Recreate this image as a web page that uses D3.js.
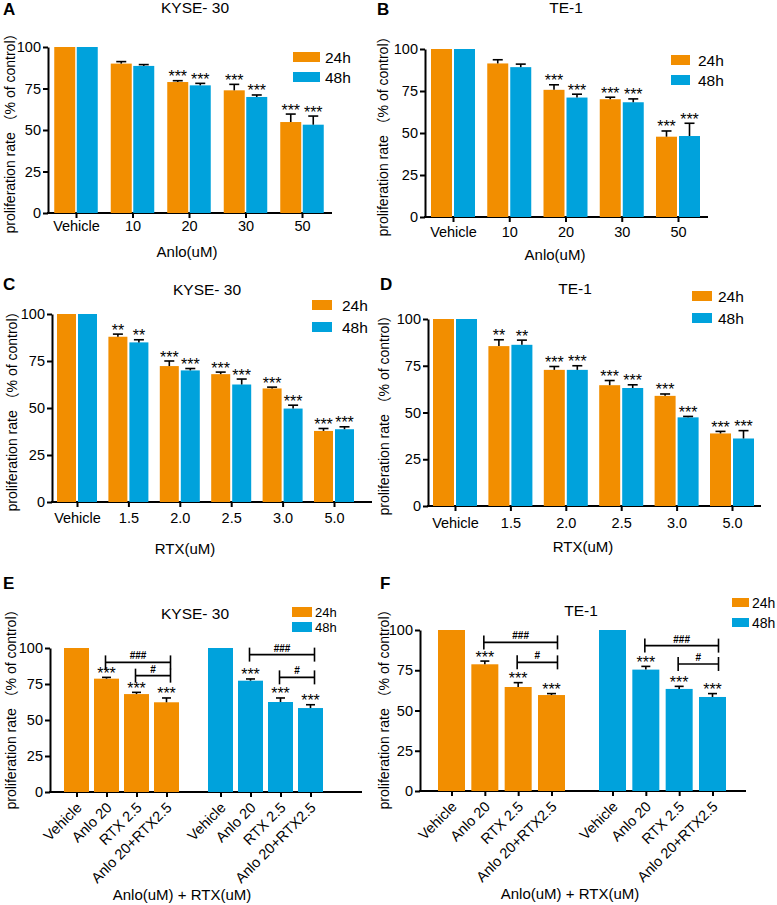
<!DOCTYPE html>
<html>
<head>
<meta charset="utf-8">
<script src="https://cdn.jsdelivr.net/npm/d3@7"></script>
<style>
  body { margin: 0; background: #fff; }
  text { font-family: "Liberation Sans", Arial, "Noto Sans CJK SC", sans-serif; }
</style>
</head>
<body>
<div id="fig"></div>
<script>
// ---------- data ----------
const anloDoses = ["Vehicle", "10", "20", "30", "50"];
const rtxDoses = ["Vehicle", "1.5", "2.0", "2.5", "3.0", "5.0"];
const comboGroups = ["Vehicle", "Anlo 20", "RTX 2.5", "Anlo 20+RTX2.5"];
const yTicks = [0, 25, 50, 75, 100];
const seriesNames = ["24h", "48h"];

// A: KYSE-30, Anlo
const aMean24 = [100, 90.0, 78.9, 73.9, 54.8];
const aErr24  = [0, 1.2, 0.8, 3.6, 4.8];
const aMean48 = [100, 88.6, 76.9, 69.9, 53.2];
const aErr48  = [0, 0.8, 1.2, 1.2, 5.2];
const aStars  = ["", "", "***", "***", "***"];

// B: TE-1, Anlo
const bMean24 = [100, 91.4, 75.7, 70.1, 47.8];
const bErr24  = [0, 2.2, 3.0, 1.2, 3.4];
const bMean48 = [100, 89.2, 71.1, 68.3, 48.2];
const bErr48  = [0, 1.8, 2.0, 2.0, 7.6];
const bStars  = ["", "", "***", "***", "***"];

// C: KYSE-30, RTX
const cMean24 = [100, 87.9, 72.3, 68.0, 60.4, 37.8];
const cErr24  = [0, 1.4, 2.7, 1.1, 0.7, 1.3];
const cMean48 = [100, 84.9, 70.0, 62.5, 49.7, 38.7];
const cErr48  = [0, 1.4, 1.0, 2.9, 1.8, 1.3];
const cStars  = ["", "**", "***", "***", "***", "***"];

// D: TE-1, RTX
const dMean24 = [100, 85.5, 72.8, 64.6, 58.9, 38.8];
const dErr24  = [0, 3.4, 1.8, 2.5, 1.0, 1.1];
const dMean48 = [100, 86.2, 72.8, 63.1, 47.4, 36.1];
const dErr48  = [0, 2.5, 2.2, 1.7, 0.5, 4.2];
const dStars  = ["", "**", "***", "***", "***", "***"];

// E: KYSE-30, combination
const eMean24 = [100, 78.7, 68.0, 62.3];
const eErr24  = [0, 0.9, 1.2, 3.0];
const eMean48 = [100, 77.3, 62.5, 58.3];
const eErr48  = [0, 1.2, 2.8, 2.3];
const eBrackets24 = [90.0, 80.8];   // ### and # heights
const eBrackets48 = [95.4, 79.6];

// F: TE-1, combination
const fMean24 = [100, 78.7, 64.6, 59.6];
const fErr24  = [0, 2.0, 2.7, 0.9];
const fMean48 = [100, 75.4, 63.4, 58.4];
const fErr48  = [0, 2.0, 1.6, 2.1];
const fBrackets24 = [92.3, 79.9];
const fBrackets48 = [90.3, 78.9];

const comboStars = ["", "***", "***", "***"];
const bracketMarks = ["###", "#"];

// ---------- styling ----------
const FONT = '"Liberation Sans", Arial, "Noto Sans CJK SC", sans-serif';
const orange = "#f28e00", blue = "#00a2dc";
const ylabText = "proliferation rate （% of control）";

const svg = d3.select("#fig").append("svg")
  .attr("width", 777)
  .attr("height", 905);

function styleAxis(g) {
  g.attr("font-family", FONT).attr("font-size", 14.5);
  g.selectAll(".tick line").attr("stroke-width", 2);
  g.selectAll(".tick text").attr("fill", "#000");
}

// frame shared by every panel: letter, title, y axis, baseline, labels
function frame(p) {
  svg.append("text")
    .attr("x", p.letter[1]).attr("y", p.letter[2])
    .attr("font-size", 17).attr("font-weight", "bold")
    .text(p.letter[0]);

  svg.append("text")
    .attr("x", p.title[1]).attr("y", p.title[2])
    .attr("text-anchor", "middle").attr("font-size", 15.5)
    .text(p.title[0]);

  const y = d3.scaleLinear().domain([0, 100]).range([p.yBot, p.yTop]);

  svg.append("g")
    .attr("transform", `translate(${p.yx},0)`)
    .call(d3.axisLeft(y).tickValues(yTicks).tickSize(5).tickSizeOuter(0).tickPadding(2))
    .call(styleAxis)
    .select(".domain").attr("stroke-width", 2);

  svg.append("line")
    .attr("x1", p.yx - 1).attr("x2", p.xEnd)
    .attr("y1", y(0)).attr("y2", y(0))
    .attr("stroke", "#000").attr("stroke-width", 2);

  svg.append("text")
    .attr("transform", `translate(${p.ylab[0]},${p.ylab[1]}) rotate(-90)`)
    .attr("dy", "0.35em")
    .attr("text-anchor", "middle").attr("font-size", 14)
    .text(ylabText);

  svg.append("text")
    .attr("x", p.xlab[1]).attr("y", p.xlab[2])
    .attr("text-anchor", "middle").attr("font-size", 15)
    .text(p.xlab[0]);

  // legend
  seriesNames.forEach(function (name, i) {
    svg.append("rect")
      .attr("x", p.leg.x).attr("y", p.leg.y + i * p.leg.dy)
      .attr("width", p.leg.w).attr("height", p.leg.h)
      .attr("fill", i === 0 ? orange : blue);
    svg.append("text")
      .attr("x", p.leg.tx).attr("y", p.leg.y + i * p.leg.dy + p.leg.h / 2)
      .attr("dy", "0.36em").attr("font-size", p.leg.fs)
      .text(name);
  });

  return y;
}

// one bar with upward error bar and significance stars
function bar(y, cx, bw, cw, mean, err, color, star) {
  svg.append("rect")
    .attr("x", cx - bw / 2).attr("y", y(mean))
    .attr("width", bw).attr("height", y(0) - y(mean))
    .attr("fill", color);
  if (err > 0) {
    svg.append("line")
      .attr("x1", cx).attr("x2", cx)
      .attr("y1", y(mean)).attr("y2", y(mean + err))
      .attr("stroke", "#000").attr("stroke-width", 1.6);
    svg.append("line")
      .attr("x1", cx - cw / 2).attr("x2", cx + cw / 2)
      .attr("y1", y(mean + err)).attr("y2", y(mean + err))
      .attr("stroke", "#000").attr("stroke-width", 1.6);
  }
  if (star) {
    svg.append("text")
      .attr("x", cx).attr("y", y(mean + err) + 1.5)
      .attr("text-anchor", "middle").attr("font-size", 16)
      .text(star);
  }
}

// ---------- dose-response panels (A-D) ----------
function dosePanel(p, cats, m24, e24, m48, e48, stars) {
  const y = frame(p);
  const x = d3.scalePoint().domain(cats).range([p.c0, p.c1]);

  svg.append("g")
    .attr("transform", `translate(0,${y(0)})`)
    .call(d3.axisBottom(x).tickSize(5).tickSizeOuter(0).tickPadding(p.pad))
    .call(styleAxis)
    .select(".domain").remove();

  cats.forEach(function (c, i) {
    const off = (p.bw + p.gap) / 2;
    bar(y, x(c) - off, p.bw, 10, m24[i], e24[i], orange, stars[i]);
    bar(y, x(c) + off, p.bw, 10, m48[i], e48[i], blue, stars[i]);
  });
}

// ---------- combination panels (E-F) ----------
function comboPanel(p, m24, e24, m48, e48, br24, br48) {
  const y = frame(p);
  const groups = [
    { x: d3.scalePoint().domain(comboGroups).range(p.oRange), m: m24, e: e24, br: br24, color: orange },
    { x: d3.scalePoint().domain(comboGroups).range(p.bRange), m: m48, e: e48, br: br48, color: blue }
  ];

  groups.forEach(function (gr) {
    svg.append("g")
      .attr("transform", `translate(0,${y(0)})`)
      .call(d3.axisBottom(gr.x).tickSize(5).tickSizeOuter(0))
      .call(styleAxis)
      .call(g => g.select(".domain").remove())
      .selectAll(".tick text")
      .attr("y", 0).attr("dy", "0.35em")
      .attr("text-anchor", "end")
      .attr("transform", "translate(2,13) rotate(-45)");

    comboGroups.forEach(function (c, i) {
      bar(y, gr.x(c), p.bw, 9, gr.m[i], gr.e[i], gr.color, comboStars[i]);
    });

    // comparison brackets: Anlo 20 vs combo, RTX 2.5 vs combo
    [comboGroups[1], comboGroups[2]].forEach(function (from, k) {
      const yy = y(gr.br[k]);
      const x1 = gr.x(from) - 1, x2 = gr.x(comboGroups[3]) + p.brOver;
      const b = svg.append("g").attr("stroke", "#000").attr("stroke-width", 1.6);
      b.append("line").attr("x1", x1).attr("x2", x2).attr("y1", yy).attr("y2", yy);
      b.append("line").attr("x1", x1).attr("x2", x1).attr("y1", yy - 7).attr("y2", yy + 7);
      b.append("line").attr("x1", x2).attr("x2", x2).attr("y1", yy - 7).attr("y2", yy + 7);
      svg.append("text")
        .attr("x", (x1 + x2) / 2).attr("y", yy - 3)
        .attr("text-anchor", "middle").attr("font-size", 10).attr("font-weight", "bold")
        .text(bracketMarks[k]);
    });
  });
}

// ---------- layouts ----------
dosePanel({
  letter: ["A", 3, 15], title: ["KYSE- 30", 195, 13],
  yx: 48, xEnd: 332, yTop: 47, yBot: 213, c0: 76, c1: 302, bw: 21, gap: 1.5, pad: 3,
  leg: { x: 293, y: 52, w: 27, h: 10, dy: 20, tx: 325, fs: 15.5 },
  ylab: [10, 130], xlab: ["Anlo(uM)", 187, 257]
}, anloDoses, aMean24, aErr24, aMean48, aErr48, aStars);

dosePanel({
  letter: ["B", 377, 15], title: ["TE-1", 566, 13],
  yx: 425, xEnd: 708, yTop: 49, yBot: 217, c0: 453, c1: 678, bw: 21, gap: 2, pad: 5,
  leg: { x: 671, y: 55, w: 19, h: 10, dy: 20, tx: 698, fs: 15.5 },
  ylab: [383, 133], xlab: ["Anlo(uM)", 555, 260]
}, anloDoses, bMean24, bErr24, bMean48, bErr48, bStars);

dosePanel({
  letter: ["C", 3, 290], title: ["KYSE- 30", 207, 295],
  yx: 52, xEnd: 372, yTop: 314, yBot: 502, c0: 77, c1: 334, bw: 19, gap: 2, pad: 6,
  leg: { x: 312, y: 300, w: 20, h: 10, dy: 22, tx: 342, fs: 15.5 },
  ylab: [12, 408], xlab: ["RTX(uM)", 185, 554]
}, rtxDoses, cMean24, cErr24, cMean48, cErr48, cStars);

dosePanel({
  letter: ["D", 380, 290], title: ["TE-1", 575, 294],
  yx: 428, xEnd: 761, yTop: 319, yBot: 506, c0: 455, c1: 732, bw: 21, gap: 2, pad: 7,
  leg: { x: 692, y: 291, w: 20, h: 10, dy: 22, tx: 718, fs: 15.5 },
  ylab: [384, 412], xlab: ["RTX(uM)", 583, 552]
}, rtxDoses, dMean24, dErr24, dMean48, dErr48, dStars);

comboPanel({
  letter: ["E", 3, 589], title: ["KYSE- 30", 195, 619],
  yx: 50, xEnd: 362, yTop: 648, yBot: 792, oRange: [76.5, 166.5], bRange: [220.5, 310.5], bw: 25, brOver: 4,
  leg: { x: 292, y: 607, w: 20, h: 10, dy: 15, tx: 315, fs: 13 },
  ylab: [11, 706], xlab: ["Anlo(uM) + RTX(uM)", 182, 900]
}, eMean24, eErr24, eMean48, eErr48, eBrackets24, eBrackets48);

comboPanel({
  letter: ["F", 380, 589], title: ["TE-1", 581, 616],
  yx: 420, xEnd: 746, yTop: 630, yBot: 791, oRange: [451.5, 551.5], bRange: [612.5, 712.5], bw: 27, brOver: 6,
  leg: { x: 732, y: 598, w: 17, h: 9, dy: 20, tx: 752, fs: 14 },
  ylab: [384, 706], xlab: ["Anlo(uM) + RTX(uM)", 570, 899]
}, fMean24, fErr24, fMean48, fErr48, fBrackets24, fBrackets48);
</script>
</body>
</html>
